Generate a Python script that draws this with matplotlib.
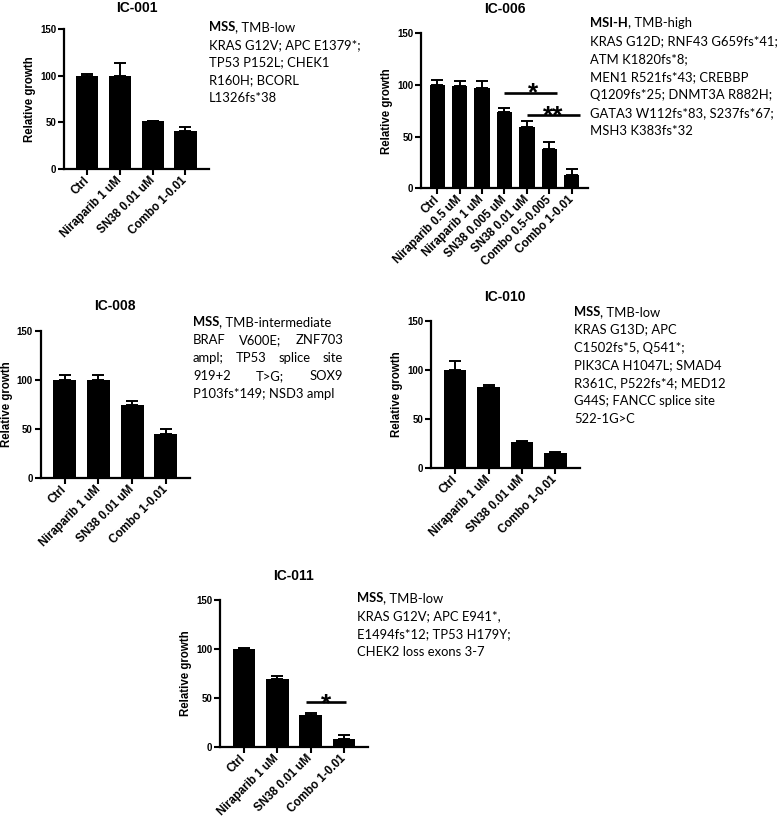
import matplotlib
matplotlib.use('Agg')
import matplotlib.pyplot as plt
import numpy as np

W, H = 778, 818
CHART_FONT = 'Liberation Sans'
NOTE_FONT = 'Lato'

# ---- data ----
labels_001 = ['Ctrl', 'Niraparib 1 uM', 'SN38 0.01 uM', 'Combo 1-0.01']
mean_001 = [100, 100, 51, 40.5]
err_001 = [1.5, 14, 0.5, 5]

labels_006 = ['Ctrl', 'Niraparib 0.5 uM', 'Niraparib 1 uM', 'SN38 0.005 uM',
              'SN38 0.01 uM', 'Combo 0.5-0.005', 'Combo 1-0.01']
mean_006 = [100, 99, 97, 74, 59.5, 38.5, 13]
err_006 = [5, 5, 7, 4, 6, 6, 6]

labels_008 = ['Ctrl', 'Niraparib 1 uM', 'SN38 0.01 uM', 'Combo 1-0.01']
mean_008 = [100, 100, 74, 45]
err_008 = [5.5, 5.5, 4.5, 5.5]

labels_010 = ['Ctrl', 'Niraparib 1 uM', 'SN38 0.01 uM', 'Combo 1-0.01']
mean_010 = [100, 83, 26.5, 15]
err_010 = [9, 1.5, 0.7, 0.7]

labels_011 = ['Ctrl', 'Niraparib 1 uM', 'SN38 0.01 uM', 'Combo 1-0.01']
mean_011 = [100, 69, 32, 8]
err_011 = [0.5, 3.5, 2, 4]

# significance bars: (from, to, bar height, star label, star x, star y)
sig_006 = [(3, 5.33, 92, '*', 4.27, 99), (4, 6.37, 71, '**', 5.17, 77)]
sig_011 = [(1.87, 3.05, 45.5, '*', 2.45, 51)]

notes_001 = ['MSS', ', TMB-low', 'KRAS G12V; APC E1379*;', 'TP53 P152L; CHEK1',
             'R160H; BCORL', 'L1326fs*38']
notes_006 = ['MSI-H', ', TMB-high', 'KRAS G12D; RNF43 G659fs*41;', 'ATM K1820fs*8;',
             'MEN1 R521fs*43; CREBBP', 'Q1209fs*25; DNMT3A R882H;',
             'GATA3 W112fs*83, S237fs*67;', 'MSH3 K383fs*32']
notes_008 = ['MSS', ', TMB-intermediate', 'BRAF V600E; ZNF703', 'ampl; TP53 splice site',
             '919+2 T>G; SOX9', 'P103fs*149; NSD3 ampl']
notes_010 = ['MSS', ', TMB-low', 'KRAS G13D; APC', 'C1502fs*5, Q541*;',
             'PIK3CA H1047L; SMAD4', 'R361C, P522fs*4; MED12',
             'G44S; FANCC splice site', '522-1G>C']
notes_011 = ['MSS', ', TMB-low', 'KRAS G12V; APC E941*,', 'E1494fs*12; TP53 H179Y;',
             'CHEK2 loss exons 3-7']

fig = plt.figure(figsize=(W / 100, H / 100), dpi=100)
fig.patch.set_facecolor('white')
renderer = fig.canvas.get_renderer()


def put(x, y, s, **kw):
    # x, y in pixels from the top-left corner
    return fig.text(x / W, 1 - y / H, s, **kw)


def width_px(t):
    return t.get_window_extent(renderer).width


def panel(box, title, title_y, labels, mean, err, sig=()):
    l, r, t, b = box
    ax = fig.add_axes([l / W, 1 - b / H, (r - l) / W, (b - t) / H])
    x = np.arange(len(labels))
    ax.errorbar(x, mean, yerr=[np.zeros(len(err)), err], fmt='none', ecolor='black',
                elinewidth=1.4, capsize=4, capthick=1.4, zorder=1)
    ax.bar(x, mean, width=0.68, color='black', zorder=2)
    ax.set_xlim(-0.72, len(labels) - 0.28)
    ax.set_ylim(0, 150)
    ax.set_yticks([0, 50, 100, 150])
    ax.set_xticks(x)
    ax.set_xticklabels(labels, rotation=45, ha='right', va='center',
                       rotation_mode='anchor', fontsize=8.4, fontweight='bold',
                       family=CHART_FONT)
    for lab in ax.get_yticklabels():
        lab.set_fontsize(7)
        lab.set_fontweight('bold')
        lab.set_family(CHART_FONT)
    ax.tick_params(axis='both', direction='out', length=4, width=1.5, pad=1.5)
    ax.tick_params(axis='x', pad=3)
    for side in ['top', 'right']:
        ax.spines[side].set_visible(False)
    for side in ['left', 'bottom']:
        ax.spines[side].set_linewidth(1.6)
    ax.set_ylabel('Relative growth', fontsize=8.3, fontweight='bold',
                  family=CHART_FONT, labelpad=3)
    for x0, x1, yb, lab, sx, sy in sig:
        ax.plot([x0, x1], [yb, yb], color='black', lw=1.9, solid_capstyle='butt',
                clip_on=False)
        ax.annotate(lab, xy=(sx, sy), xytext=(0, -0.55 * 19), textcoords='offset points',
                    ha='center', va='baseline', fontsize=19, fontweight='bold',
                    family=CHART_FONT, annotation_clip=False)
    put((l + r) / 2, title_y, title, ha='center', va='baseline', fontsize=10,
        fontweight='bold', family=CHART_FONT)
    return ax


# size of the note font so that the widest IC-006 line spans ~187 px
probe = put(0, 0, notes_006[2], fontsize=10, family=NOTE_FONT)
NOTE_SIZE = 10 * 187 / width_px(probe)
probe.remove()


def notes(x0, y0, dy, lines, justify_to=None):
    head = put(x0, y0, lines[0], fontsize=NOTE_SIZE, fontweight='bold',
               family=NOTE_FONT, va='center')
    put(x0 + width_px(head), y0, lines[1], fontsize=NOTE_SIZE, family=NOTE_FONT,
        va='center')
    body = lines[2:]
    for i, line in enumerate(body):
        y = y0 + (i + 1) * dy
        if justify_to is not None and i < len(body) - 1:
            words = line.split()
            ts = [put(0, y, w, fontsize=NOTE_SIZE, family=NOTE_FONT, va='center')
                  for w in words]
            ws = [width_px(tt) for tt in ts]
            gap = (justify_to - x0 - sum(ws)) / (len(words) - 1)
            xx = x0
            for tt, w in zip(ts, ws):
                tt.set_x(xx / W)
                xx += w + gap
        else:
            put(x0, y, line, fontsize=NOTE_SIZE, family=NOTE_FONT, va='center')


panel((63.8, 209, 29, 169), 'IC-001', 12, labels_001, mean_001, err_001)
notes(209, 27, 17.8, notes_001)

panel((421, 588, 33.3, 188.3), 'IC-006', 13, labels_006, mean_006, err_006, sig_006)
notes(590, 22.7, 18.05, notes_006)

panel((40.5, 190, 331, 478), 'IC-008', 310, labels_008, mean_008, err_008)
notes(193, 321.7, 18.15, notes_008, justify_to=343)

panel((431, 579.5, 321, 467.7), 'IC-010', 301, labels_010, mean_010, err_010)
notes(574, 311.7, 17.9, notes_010)

panel((220, 368, 600, 746.7), 'IC-011', 580, labels_011, mean_011, err_011, sig_011)
notes(356.7, 598.3, 17.8, notes_011)

fig.savefig('out.png', dpi=100, facecolor='white')
